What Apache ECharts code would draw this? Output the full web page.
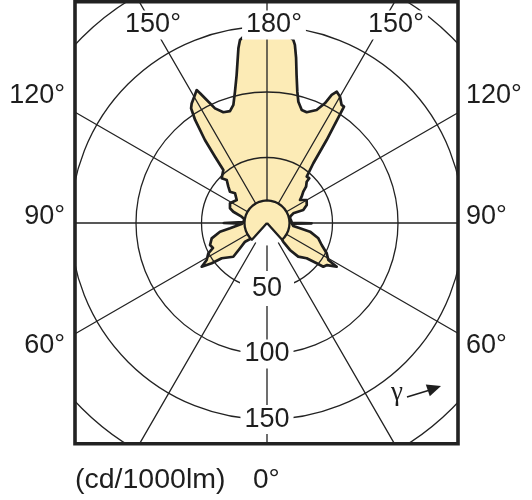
<!DOCTYPE html>
<html><head><meta charset="utf-8">
<script src="https://cdn.jsdelivr.net/npm/echarts@6/dist/echarts.min.js"></script>
<style>html,body{margin:0;padding:0;background:#fff}#c{width:532px;height:500px}</style>
</head><body><div id="c"></div>
<script>
// C0 plane (right half): [gamma deg, cd/1000lm], traced from gamma 0 up to 180
const rightPlane = [
  [0,0],[43.5,14.4],[41,19],[40.4,27],[42.9,35],[48.4,40.5],[51,48.8],[52.2,54.4],[55,56],[57.9,62.8],
  [58.9,54.7],[63.1,51.1],[68.1,45],[73.4,40.9],[78.6,33.5],[80.9,25.5],[83.5,20.2],[88.5,19],[89.6,34],
  [90.5,19],[95,18],[100,18.2],[105.3,18.2],[110.2,21.4],[109.7,29.4],[114.4,33.3],[120.1,35],[124.9,30.7],
  [127.2,33.2],[130.8,36.6],[132.9,40.7],[136.1,43.7],[136.6,47],[139.4,46.6],[142.2,57.7],[144.3,78],
  [146.5,106.5],[147.7,106.6],[150,111.4],[152,113.5],[153.2,109.5],[154.2,101.5],[156.3,94.2],[160.3,89.8],
  [162.9,90.2],[165.5,95.6],[167,102.9],[168.7,115.2],[170,127.9],[171.1,137.6],[171.8,141.1],[173,143.3],
  [180,142.2]
];
// C180 plane (left half): [gamma deg, cd/1000lm], traced from gamma 180 down to 0
const leftPlane = [
  [180,142.2],[172.8,143.4],[171.6,141.2],[170.7,135.1],[168.4,115.3],[166.3,103.2],[164.1,93.7],[161.7,90],
  [158.5,90.9],[155.6,96.1],[153.9,104.6],[152.7,111.4],[152.1,114.8],[150.6,112.1],[147.8,107.9],[146.5,105],
  [145.1,95.9],[143.2,79.1],[141.9,64.3],[140.5,52.4],[134.6,48.6],[136.9,45],[133.2,40.5],[130.2,37],
  [132.9,33.3],[127.2,29],[118,32],[111.7,30.4],[108.5,27.1],[104,20],[100,17.6],[92,18],[90,33],[88.5,19],
  [81.8,28.5],[79.5,36.5],[74.5,43.8],[68.9,46.6],[65.2,45.4],[62.7,50.4],[58.5,54],[56.2,60],[53.9,52.2],
  [52.1,43.8],[45,36.4],[46.9,28.2],[49.6,22],[42,14],[0,0]
];
// central hub of the curve: [polar angle deg, cd/1000lm]
const hubOutline = [
  [0,0],[42,17.2],[50,17.2],[60,17.2],[70,17.2],[80,17.2],[90,17.2],[100,17.2],[110,17.2],[120,17.2],
  [130,17.2],[140,17.2],[150,17.2],[160,17.2],[170,17.2],[180,17.2],[190,17.2],[200,17.2],[210,17.2],
  [220,17.2],[230,17.2],[240,17.2],[250,17.2],[260,17.2],[270,17.2],[280,17.2],[290,17.2],[300,17.2],
  [310,17.2],[318,17.2],[360,0]
];
const radiusTicks = [50, 100, 150];
const topLabels = ['150°', '180°', '150°'];
const sideLabels = ['120°', '90°', '60°'];
const unitText = '(cd/1000lm)';
const zeroLabel = '0°';
const gammaSymbol = 'γ';

const FONT = '"Liberation Sans", Arial, Helvetica, sans-serif';
const INK = '#1e1e1e';
const FILL = '#fcebb6';

const chart = echarts.init(document.getElementById('c'));
const mainData = rightPlane.map(p => [p[1], p[0]]).concat(leftPlane.map(p => [p[1], 360 - p[0]]));
const hubData = hubOutline.map(p => [p[1], p[0]]);

chart.setOption({
  animation: false,
  backgroundColor: '#fff',
  polar: { center: [267, 223], radius: 262 },
  angleAxis: {
    type: 'value', min: 0, max: 360, interval: 30, startAngle: 270, clockwise: false, z: 2,
    axisLine: { show: false }, axisTick: { show: false }, axisLabel: { show: false },
    splitLine: { show: true, lineStyle: { color: '#222', width: 1.3 } }
  },
  radiusAxis: {
    type: 'value', min: 0, max: 200, interval: 50, z: 2,
    axisLine: { show: false }, axisTick: { show: false }, axisLabel: { show: false },
    splitLine: { show: true, lineStyle: { color: '#222', width: 1.3 } }
  },
  series: [
    { type: 'line', coordinateSystem: 'polar', data: mainData, symbol: 'none', z: 1, clip: false,
      lineStyle: { color: INK, width: 2.7, join: 'round' }, areaStyle: { color: FILL, opacity: 1 } },
    { type: 'line', coordinateSystem: 'polar', data: hubData, symbol: 'none', z: 4, clip: false,
      lineStyle: { color: INK, width: 2.3, join: 'round' }, areaStyle: { color: FILL, opacity: 1 } }
  ]
});

function px(v, a) {
  let p = null;
  try { p = chart.convertToPixel({ seriesIndex: 0 }, [v, a]); } catch (e) { p = null; }
  if (!p) { const r = v / 200 * 262, t = (270 + a) * Math.PI / 180; p = [267 + r * Math.cos(t), 223 - r * Math.sin(t)]; }
  return p;
}
const c0 = px(0, 0);
const hubEdge = px(17.2, 90);
const hubR = Math.hypot(hubEdge[0] - c0[0], hubEdge[1] - c0[1]);

const g = [];
g.push({ type: 'circle', z: 3, shape: { cx: c0[0], cy: c0[1], r: hubR }, style: { fill: '#fff' } });
// masks outside the frame
g.push({ type: 'rect', z: 10, shape: { x: 0, y: 0, width: 74, height: 500 }, style: { fill: '#fff' } });
g.push({ type: 'rect', z: 10, shape: { x: 459, y: 0, width: 73, height: 500 }, style: { fill: '#fff' } });
g.push({ type: 'rect', z: 10, shape: { x: 0, y: 445, width: 532, height: 55 }, style: { fill: '#fff' } });
g.push({ type: 'rect', z: 11, shape: { x: 75, y: 1.8, width: 383, height: 442 }, style: { fill: 'none', stroke: '#222', lineWidth: 3.6 } });

const T = (text, x, y, align, extra) => Object.assign({
  type: 'text', z: 12, x: x, y: y,
  style: Object.assign({ text: text, fill: INK, font: '27px ' + FONT, textAlign: align, textVerticalAlign: 'middle' }, extra || {})
});
const topX = [153, 274, 396];
topLabels.forEach((t, i) => g.push(T(t, topX[i], 25, 'center', { backgroundColor: '#fff', padding: [1, 4] })));
const sideY = [96, 217, 346];
sideLabels.forEach((t, i) => {
  g.push(T(t, 65, sideY[i], 'right'));
  g.push(T(t, 466, sideY[i], 'left'));
});
radiusTicks.forEach((v, i) => {
  const p = px(v, 0);
  g.push(T(String(v), p[0], p[1], 'center', { backgroundColor: '#fff', padding: i === 0 ? [4, 12] : [1, 4] }));
});
g.push(T(unitText, 75, 480, 'left', { font: '28.5px ' + FONT }));
g.push(T(zeroLabel, 253, 480, 'left', { font: '28px ' + FONT }));
g.push(T(gammaSymbol, 397, 393, 'center', { font: '27px "Liberation Serif", "DejaVu Serif", serif' }));
g.push({ type: 'line', z: 12, shape: { x1: 407, y1: 397, x2: 430, y2: 390 }, style: { stroke: INK, lineWidth: 1.6 } });
g.push({ type: 'polygon', z: 12, shape: { points: [[441, 386], [425.8, 384.4], [429.8, 396.2]] }, style: { fill: INK } });

chart.setOption({ graphic: g });
</script>
</body></html>
